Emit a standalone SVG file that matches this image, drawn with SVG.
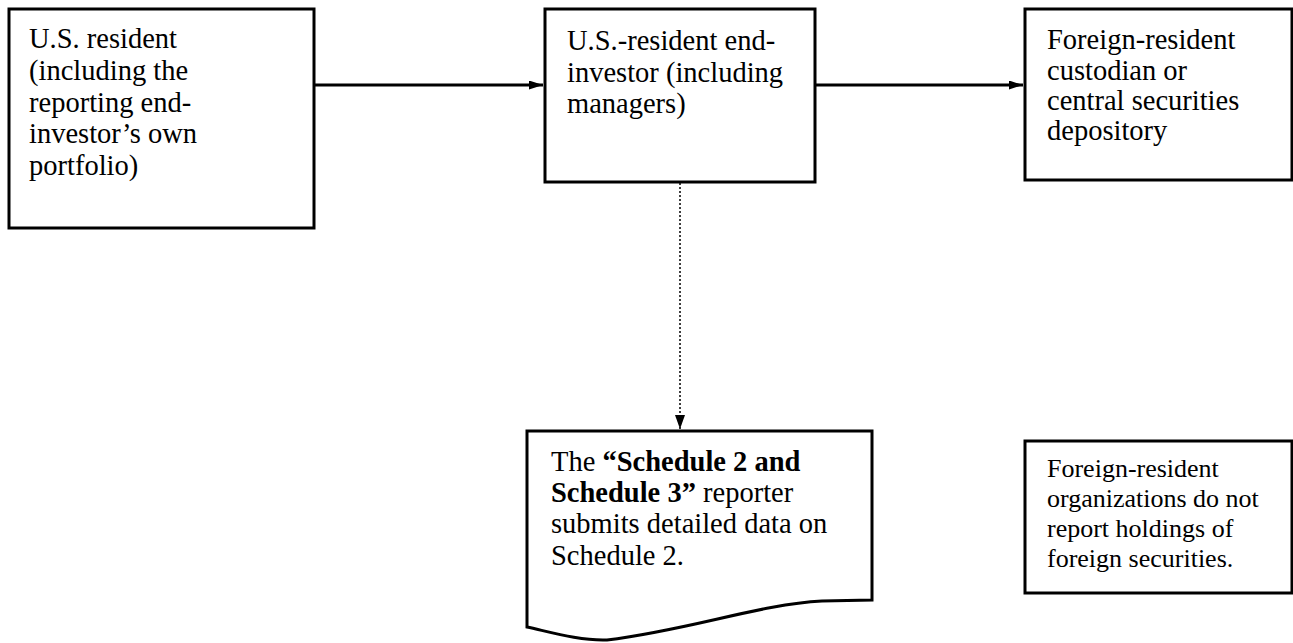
<svg xmlns="http://www.w3.org/2000/svg" width="1293" height="643" viewBox="0 0 1293 643">
<style>
.box{fill:#fff;stroke:#000;stroke-width:3}
.t{font-family:"Liberation Serif","Times New Roman",serif;font-size:28.5px;fill:#000}
.s{font-family:"Liberation Serif","Times New Roman",serif;font-size:26px;fill:#000}
.c{stroke:#000;stroke-width:3;fill:none}
.d{stroke:#000;stroke-width:1.5;fill:none;stroke-dasharray:2,2}
</style>
<defs>
<marker id="ah" markerWidth="14" markerHeight="9" refX="14" refY="4.5" orient="auto" markerUnits="userSpaceOnUse">
<path d="M0,0 L14,4.5 L0,9 Z" fill="#000"/>
</marker>
<marker id="ah2" markerWidth="14" markerHeight="10" refX="14" refY="5" orient="auto" markerUnits="userSpaceOnUse">
<path d="M0,0 L14,5 L0,10 Z" fill="#000"/>
</marker>
</defs>
<g id="connectors">
<line class="c" x1="315" y1="85" x2="543" y2="85" marker-end="url(#ah)"/>
<line class="c" x1="816" y1="85" x2="1023" y2="85" marker-end="url(#ah)"/>
<line class="d" x1="680" y1="183" x2="680" y2="429" marker-end="url(#ah2)"/>
</g>
<g id="n1">
<rect class="box" x="9" y="9" width="305" height="219"/>
<text class="t"><tspan x="29" y="48">U.S. resident</tspan><tspan x="29" y="80">(including the</tspan><tspan x="29" y="112">reporting end-</tspan><tspan x="29" y="143">investor’s own</tspan><tspan x="29" y="175">portfolio)</tspan></text>
</g>
<g id="n2">
<rect class="box" x="545" y="9" width="270" height="173"/>
<text class="t"><tspan x="567" y="50">U.S.-resident end-</tspan><tspan x="567" y="82">investor (including</tspan><tspan x="567" y="113">managers)</tspan></text>
</g>
<g id="n3">
<rect class="box" x="1025" y="9" width="267" height="171"/>
<text class="t"><tspan x="1047" y="49">Foreign-resident</tspan><tspan x="1047" y="80">custodian or</tspan><tspan x="1047" y="110">central securities</tspan><tspan x="1047" y="140">depository</tspan></text>
</g>
<g id="n4">
<path class="box" d="M527,431 H872 V600 L822,601 C760,604 690,630 607,640 C580,641 550,632 527,627 Z"/>
<text class="t"><tspan x="551" y="471">The <tspan font-weight="bold">“Schedule 2 and</tspan></tspan><tspan x="551" y="502"><tspan font-weight="bold">Schedule 3”</tspan> reporter</tspan><tspan x="551" y="533">submits detailed data on</tspan><tspan x="551" y="565">Schedule 2.</tspan></text>
</g>
<g id="n5">
<rect class="box" x="1025" y="441" width="267" height="152"/>
<text class="s"><tspan x="1047" y="477">Foreign-resident</tspan><tspan x="1047" y="507">organizations do not</tspan><tspan x="1047" y="537">report holdings of</tspan><tspan x="1047" y="567">foreign securities.</tspan></text>
</g>
</svg>
